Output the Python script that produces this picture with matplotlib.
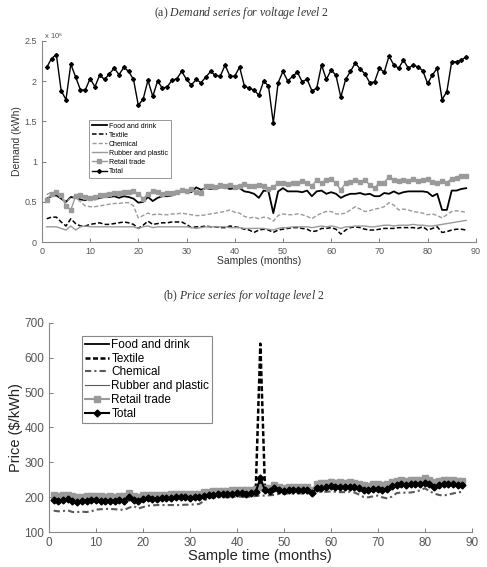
import numpy as np
import matplotlib
matplotlib.use("Agg")
import matplotlib.pyplot as plt

plt.rcParams['font.family'] = ['Liberation Sans', 'DejaVu Sans']
plt.rcParams['mathtext.fontset'] = 'custom'
plt.rcParams['mathtext.it'] = 'Liberation Serif:italic'
plt.rcParams['mathtext.rm'] = 'Liberation Serif'

months = np.arange(1, 89)

# demand, units of 1e8 kWh
dem_total = [2.17, 2.28, 2.33, 1.88, 1.77, 2.21, 2.05, 1.89, 1.89, 2.03,
             1.93, 2.075, 2.02, 2.09, 2.16, 2.08, 2.17, 2.12, 2.02, 1.70,
             1.775, 2.01, 1.81, 2.0, 1.91, 1.93, 2.01, 2.03, 2.12, 2.02,
             1.95, 2.02, 1.98, 2.05, 2.12, 2.07, 2.06, 2.20, 2.06, 2.06,
             2.175, 1.94, 1.91, 1.89, 1.825, 2.0, 1.94, 1.48, 1.98, 2.12,
             2.0, 2.06, 2.11, 1.99, 2.025, 1.88, 1.91, 2.20, 2.02, 2.14,
             2.07, 1.80, 2.02, 2.12, 2.225, 2.15, 2.09, 1.98, 1.99, 2.16,
             2.11, 2.31, 2.20, 2.16, 2.26, 2.16, 2.20, 2.175, 2.13, 1.97,
             2.075, 2.16, 1.77, 1.87, 2.24, 2.24, 2.26, 2.30]
dem_food = [0.54, 0.57, 0.58, 0.54, 0.50, 0.56, 0.55, 0.53, 0.52, 0.55,
            0.53, 0.55, 0.56, 0.56, 0.57, 0.55, 0.57, 0.56, 0.54, 0.49,
            0.50, 0.56, 0.51, 0.55, 0.57, 0.57, 0.58, 0.60, 0.63, 0.64,
            0.62, 0.68, 0.65, 0.67, 0.66, 0.67, 0.68, 0.68, 0.66, 0.67,
            0.67, 0.63, 0.62, 0.60, 0.55, 0.64, 0.63, 0.36, 0.63, 0.67,
            0.63, 0.63, 0.63, 0.62, 0.64, 0.57, 0.63, 0.64, 0.60, 0.62,
            0.60, 0.55, 0.58, 0.60, 0.60, 0.61, 0.59, 0.60, 0.57, 0.57,
            0.61, 0.60, 0.63, 0.60, 0.62, 0.63, 0.63, 0.63, 0.63, 0.62,
            0.57, 0.60, 0.40, 0.40, 0.64, 0.64, 0.66, 0.67]
dem_textile = [0.29, 0.31, 0.31, 0.25, 0.20, 0.29, 0.23, 0.20, 0.20, 0.22,
               0.23, 0.24, 0.22, 0.22, 0.23, 0.24, 0.25, 0.24, 0.22, 0.17,
               0.21, 0.26, 0.22, 0.23, 0.24, 0.24, 0.25, 0.25, 0.25, 0.22,
               0.18, 0.19, 0.19, 0.20, 0.19, 0.19, 0.18, 0.18, 0.20, 0.19,
               0.18, 0.16, 0.15, 0.12, 0.15, 0.16, 0.15, 0.12, 0.15, 0.16,
               0.17, 0.18, 0.18, 0.17, 0.16, 0.13, 0.14, 0.17, 0.17, 0.18,
               0.16, 0.10, 0.15, 0.18, 0.19, 0.18, 0.16, 0.15, 0.15, 0.16,
               0.17, 0.17, 0.17, 0.18, 0.18, 0.18, 0.18, 0.17, 0.19, 0.15,
               0.17, 0.19, 0.12, 0.13, 0.15, 0.16, 0.16, 0.15]
dem_chemical = [0.59, 0.62, 0.60, 0.55, 0.50, 0.55, 0.56, 0.50, 0.45, 0.44,
                0.44, 0.45, 0.46, 0.47, 0.48, 0.48, 0.49, 0.49, 0.45, 0.30,
                0.33, 0.36, 0.34, 0.35, 0.34, 0.34, 0.35, 0.35, 0.36, 0.35,
                0.34, 0.33, 0.33, 0.34, 0.35, 0.36, 0.37, 0.38, 0.40, 0.37,
                0.36, 0.32, 0.30, 0.31, 0.29, 0.31, 0.30, 0.26, 0.33, 0.35,
                0.34, 0.34, 0.35, 0.34, 0.32, 0.29, 0.33, 0.36, 0.38, 0.38,
                0.35, 0.35, 0.36, 0.40, 0.44, 0.41, 0.38, 0.39, 0.41, 0.42,
                0.44, 0.49, 0.46, 0.40, 0.41, 0.40, 0.38, 0.37, 0.36, 0.34,
                0.35, 0.33, 0.30, 0.34, 0.38, 0.39, 0.38, 0.37]
dem_rubber = [0.19, 0.19, 0.19, 0.17, 0.15, 0.20, 0.15, 0.19, 0.20, 0.19,
              0.19, 0.19, 0.19, 0.19, 0.19, 0.19, 0.19, 0.19, 0.19, 0.17,
              0.19, 0.20, 0.18, 0.19, 0.19, 0.19, 0.19, 0.19, 0.19, 0.19,
              0.18, 0.17, 0.18, 0.19, 0.19, 0.19, 0.19, 0.19, 0.18, 0.18,
              0.18, 0.17, 0.17, 0.17, 0.17, 0.17, 0.16, 0.15, 0.17, 0.18,
              0.18, 0.19, 0.19, 0.19, 0.19, 0.18, 0.19, 0.20, 0.19, 0.20,
              0.19, 0.17, 0.19, 0.19, 0.20, 0.20, 0.20, 0.19, 0.19, 0.20,
              0.21, 0.21, 0.20, 0.21, 0.21, 0.21, 0.22, 0.21, 0.21, 0.20,
              0.20, 0.21, 0.22, 0.23, 0.24, 0.25, 0.26, 0.27]
dem_retail = [0.52, 0.60, 0.62, 0.58, 0.45, 0.40, 0.57, 0.58, 0.56, 0.55,
              0.56, 0.58, 0.59, 0.60, 0.61, 0.61, 0.62, 0.62, 0.63, 0.60,
              0.54, 0.60, 0.63, 0.62, 0.60, 0.61, 0.61, 0.62, 0.65, 0.63,
              0.66, 0.62, 0.61, 0.70, 0.70, 0.69, 0.71, 0.70, 0.71, 0.69,
              0.70, 0.72, 0.70, 0.70, 0.71, 0.70, 0.66, 0.68, 0.74, 0.73,
              0.72, 0.73, 0.74, 0.76, 0.74, 0.70, 0.77, 0.74, 0.77, 0.78,
              0.73, 0.65, 0.73, 0.75, 0.77, 0.75, 0.77, 0.71, 0.67, 0.74,
              0.74, 0.81, 0.77, 0.76, 0.77, 0.76, 0.78, 0.76, 0.77, 0.79,
              0.75, 0.74, 0.76, 0.74, 0.79, 0.80, 0.82, 0.82]

# prices, $/kWh
pr_total = [192, 191, 193, 196, 190, 188, 190, 191, 192, 192,
            191, 190, 191, 190, 192, 191, 202, 192, 190, 196,
            197, 196, 196, 197, 198, 199, 200, 201, 200, 199,
            200, 201, 205, 207, 208, 209, 210, 210, 211, 212,
            212, 211, 212, 215, 255, 220, 219, 228, 220, 219,
            220, 220, 221, 220, 221, 212, 226, 228, 229, 232,
            230, 231, 229, 231, 230, 226, 222, 220, 224, 225,
            222, 225, 232, 236, 238, 236, 237, 238, 239, 241,
            238, 230, 235, 238, 238, 237, 236, 234]
pr_food = [195, 194, 196, 198, 193, 191, 193, 194, 194, 195,
           194, 193, 194, 193, 195, 194, 205, 195, 193, 199,
           200, 199, 199, 200, 201, 202, 203, 204, 203, 202,
           203, 204, 208, 210, 211, 212, 213, 213, 214, 215,
           215, 214, 215, 218, 245, 223, 222, 230, 223, 222,
           223, 223, 224, 223, 224, 215, 229, 231, 232, 235,
           233, 234, 232, 234, 233, 229, 225, 223, 227, 228,
           225, 228, 235, 239, 241, 239, 240, 241, 242, 244,
           241, 233, 238, 241, 241, 240, 239, 237]
pr_textile = [191, 190, 192, 195, 189, 187, 189, 190, 191, 191,
              190, 189, 190, 189, 191, 190, 200, 191, 189, 195,
              196, 195, 195, 196, 197, 198, 199, 200, 199, 198,
              199, 200, 204, 206, 207, 208, 209, 209, 210, 211,
              211, 210, 211, 214, 640, 219, 218, 227, 219, 218,
              219, 219, 220, 219, 220, 211, 225, 227, 228, 231,
              229, 230, 228, 230, 229, 225, 221, 219, 223, 224,
              221, 224, 231, 235, 237, 235, 236, 237, 238, 240,
              237, 229, 234, 237, 237, 236, 235, 233]
pr_chemical = [162, 160, 161, 163, 158, 158, 159, 158, 160, 165,
               166, 167, 167, 166, 165, 164, 170, 175, 168, 172,
               176, 177, 178, 178, 178, 178, 178, 178, 179, 179,
               180, 181, 190, 198, 200, 200, 201, 200, 201, 202,
               202, 201, 202, 204, 205, 205, 206, 207, 210, 211,
               211, 211, 212, 211, 212, 205, 214, 216, 216, 217,
               216, 215, 215, 216, 214, 208, 201, 200, 203, 205,
               200, 197, 202, 212, 214, 213, 214, 216, 220, 226,
               218, 211, 207, 205, 208, 211, 214, 216]
pr_rubber = [196, 195, 197, 199, 194, 192, 194, 195, 195, 196,
             195, 194, 195, 194, 196, 195, 206, 196, 194, 200,
             201, 200, 200, 201, 202, 203, 204, 205, 204, 203,
             204, 205, 209, 211, 212, 213, 214, 214, 215, 216,
             216, 215, 216, 219, 232, 224, 223, 231, 224, 223,
             224, 224, 225, 224, 225, 216, 232, 236, 242, 252,
             238, 236, 233, 235, 234, 230, 226, 224, 228, 229,
             226, 229, 236, 240, 242, 240, 241, 242, 243, 245,
             242, 234, 239, 242, 242, 241, 240, 238]
pr_retail = [206, 205, 206, 207, 203, 201, 202, 203, 203, 204,
             203, 202, 203, 202, 204, 203, 212, 204, 202, 206,
             207, 206, 206, 207, 208, 209, 210, 211, 210, 209,
             210, 211, 214, 216, 217, 218, 219, 219, 220, 221,
             221, 220, 221, 224, 230, 228, 228, 234, 229, 228,
             229, 229, 230, 229, 230, 222, 238, 240, 241, 244,
             242, 243, 241, 243, 242, 238, 234, 233, 237, 238,
             236, 239, 244, 248, 249, 248, 249, 250, 251, 254,
             250, 243, 247, 250, 250, 249, 248, 247]

GREY = '#9a9a9a'
DGREY = '#5a5a5a'


def style_axes(ax, labelsize):
    for side in ['top', 'right']:
        ax.spines[side].set_visible(False)
    for side in ['left', 'bottom']:
        ax.spines[side].set_color('#888888')
        ax.spines[side].set_linewidth(0.8)
    ax.tick_params(direction='in', length=3, width=0.6, colors='#666666',
                   labelsize=labelsize, labelcolor='#555555')


fig = plt.figure(figsize=(4.87, 5.67), dpi=100)

# (a) demand
ax1 = fig.add_axes([0.086, 0.573, 0.891, 0.355])
ax1.plot(months, dem_food, color='black', lw=1.3, label='Food and drink')
ax1.plot(months, dem_textile, color='black', lw=1.1, ls=(0, (3, 1.5)), label='Textile')
ax1.plot(months, dem_chemical, color=GREY, lw=1.0, ls=(0, (3, 1.5)), label='Chemical')
ax1.plot(months, dem_rubber, color=GREY, lw=1.0, label='Rubber and plastic')
ax1.plot(months, dem_retail, color=GREY, lw=1.0, marker='s', ms=2.8, label='Retail trade')
ax1.plot(months, dem_total, color='black', lw=1.0, marker='D', ms=2.0, label='Total')
ax1.set_xlim(0, 90)
ax1.set_ylim(0, 2.5)
ax1.set_xticks(np.arange(0, 91, 10))
ax1.set_yticks([0, 0.5, 1, 1.5, 2, 2.5])
ax1.set_yticklabels(['0', '0.5', '1', '1.5', '2', '2.5'])
style_axes(ax1, 6.5)
ax1.set_xlabel('Samples (months)', fontsize=7.5, labelpad=0, color='#333333')
ax1.set_ylabel('Demand (kWh)', fontsize=7.5, labelpad=2, color='#333333')
ax1.text(0.0, 1.0, r' x 10$^{8}$', transform=ax1.transAxes, fontsize=5.5,
         color='#555555', va='bottom', ha='left')
leg1 = ax1.legend(loc='upper left', bbox_to_anchor=(0.1, 0.625), fontsize=5,
                  handlelength=2.2, handletextpad=0.3, labelspacing=0.3,
                  borderpad=0.4, fancybox=False, framealpha=1)
leg1.get_frame().set_edgecolor('#888888')
leg1.get_frame().set_linewidth(0.6)
fig.text(0.495, 0.977, r'(a) $\mathit{Demand\ series\ for\ voltage\ level\ 2}$',
         ha='center', va='center', fontsize=8.5, family='Liberation Serif',
         color='#333333')

# (b) price
ax2 = fig.add_axes([0.1006, 0.0612, 0.868, 0.3697])
ax2.plot(months, pr_food, color='black', lw=1.3, label='Food and drink')
ax2.plot(months, pr_textile, color='black', lw=1.8, ls=(0, (2, 1)), label='Textile')
ax2.plot(months, pr_chemical, color=DGREY, lw=1.5, ls=(0, (3, 1.5, 1, 1.5)), label='Chemical')
ax2.plot(months, pr_rubber, color=DGREY, lw=0.8, label='Rubber and plastic')
ax2.plot(months, pr_retail, color=GREY, lw=1.5, marker='s', ms=4, label='Retail trade')
ax2.plot(months, pr_total, color='black', lw=1.5, marker='D', ms=3.5, label='Total')
ax2.set_xlim(0, 90)
ax2.set_ylim(100, 700)
ax2.set_xticks(np.arange(0, 91, 10))
ax2.set_yticks(np.arange(100, 701, 100))
style_axes(ax2, 8.5)
ax2.set_xlabel('Sample time (months)', fontsize=10.5, labelpad=0, color='#222222')
ax2.set_ylabel('Price ($/kWh)', fontsize=10.5, labelpad=1, color='#222222')
leg2 = ax2.legend(loc='upper left', bbox_to_anchor=(0.065, 0.965), fontsize=8.5,
                  handlelength=2.0, handletextpad=0.2, labelspacing=0.15,
                  borderpad=0.25, fancybox=False, framealpha=1)
leg2.get_frame().set_edgecolor('#888888')
leg2.get_frame().set_linewidth(0.8)
fig.text(0.5, 0.478, r'(b) $\mathit{Price\ series\ for\ voltage\ level\ 2}$',
         ha='center', va='center', fontsize=8.5, family='Liberation Serif',
         color='#333333')

fig.savefig('out.png', dpi=100)
